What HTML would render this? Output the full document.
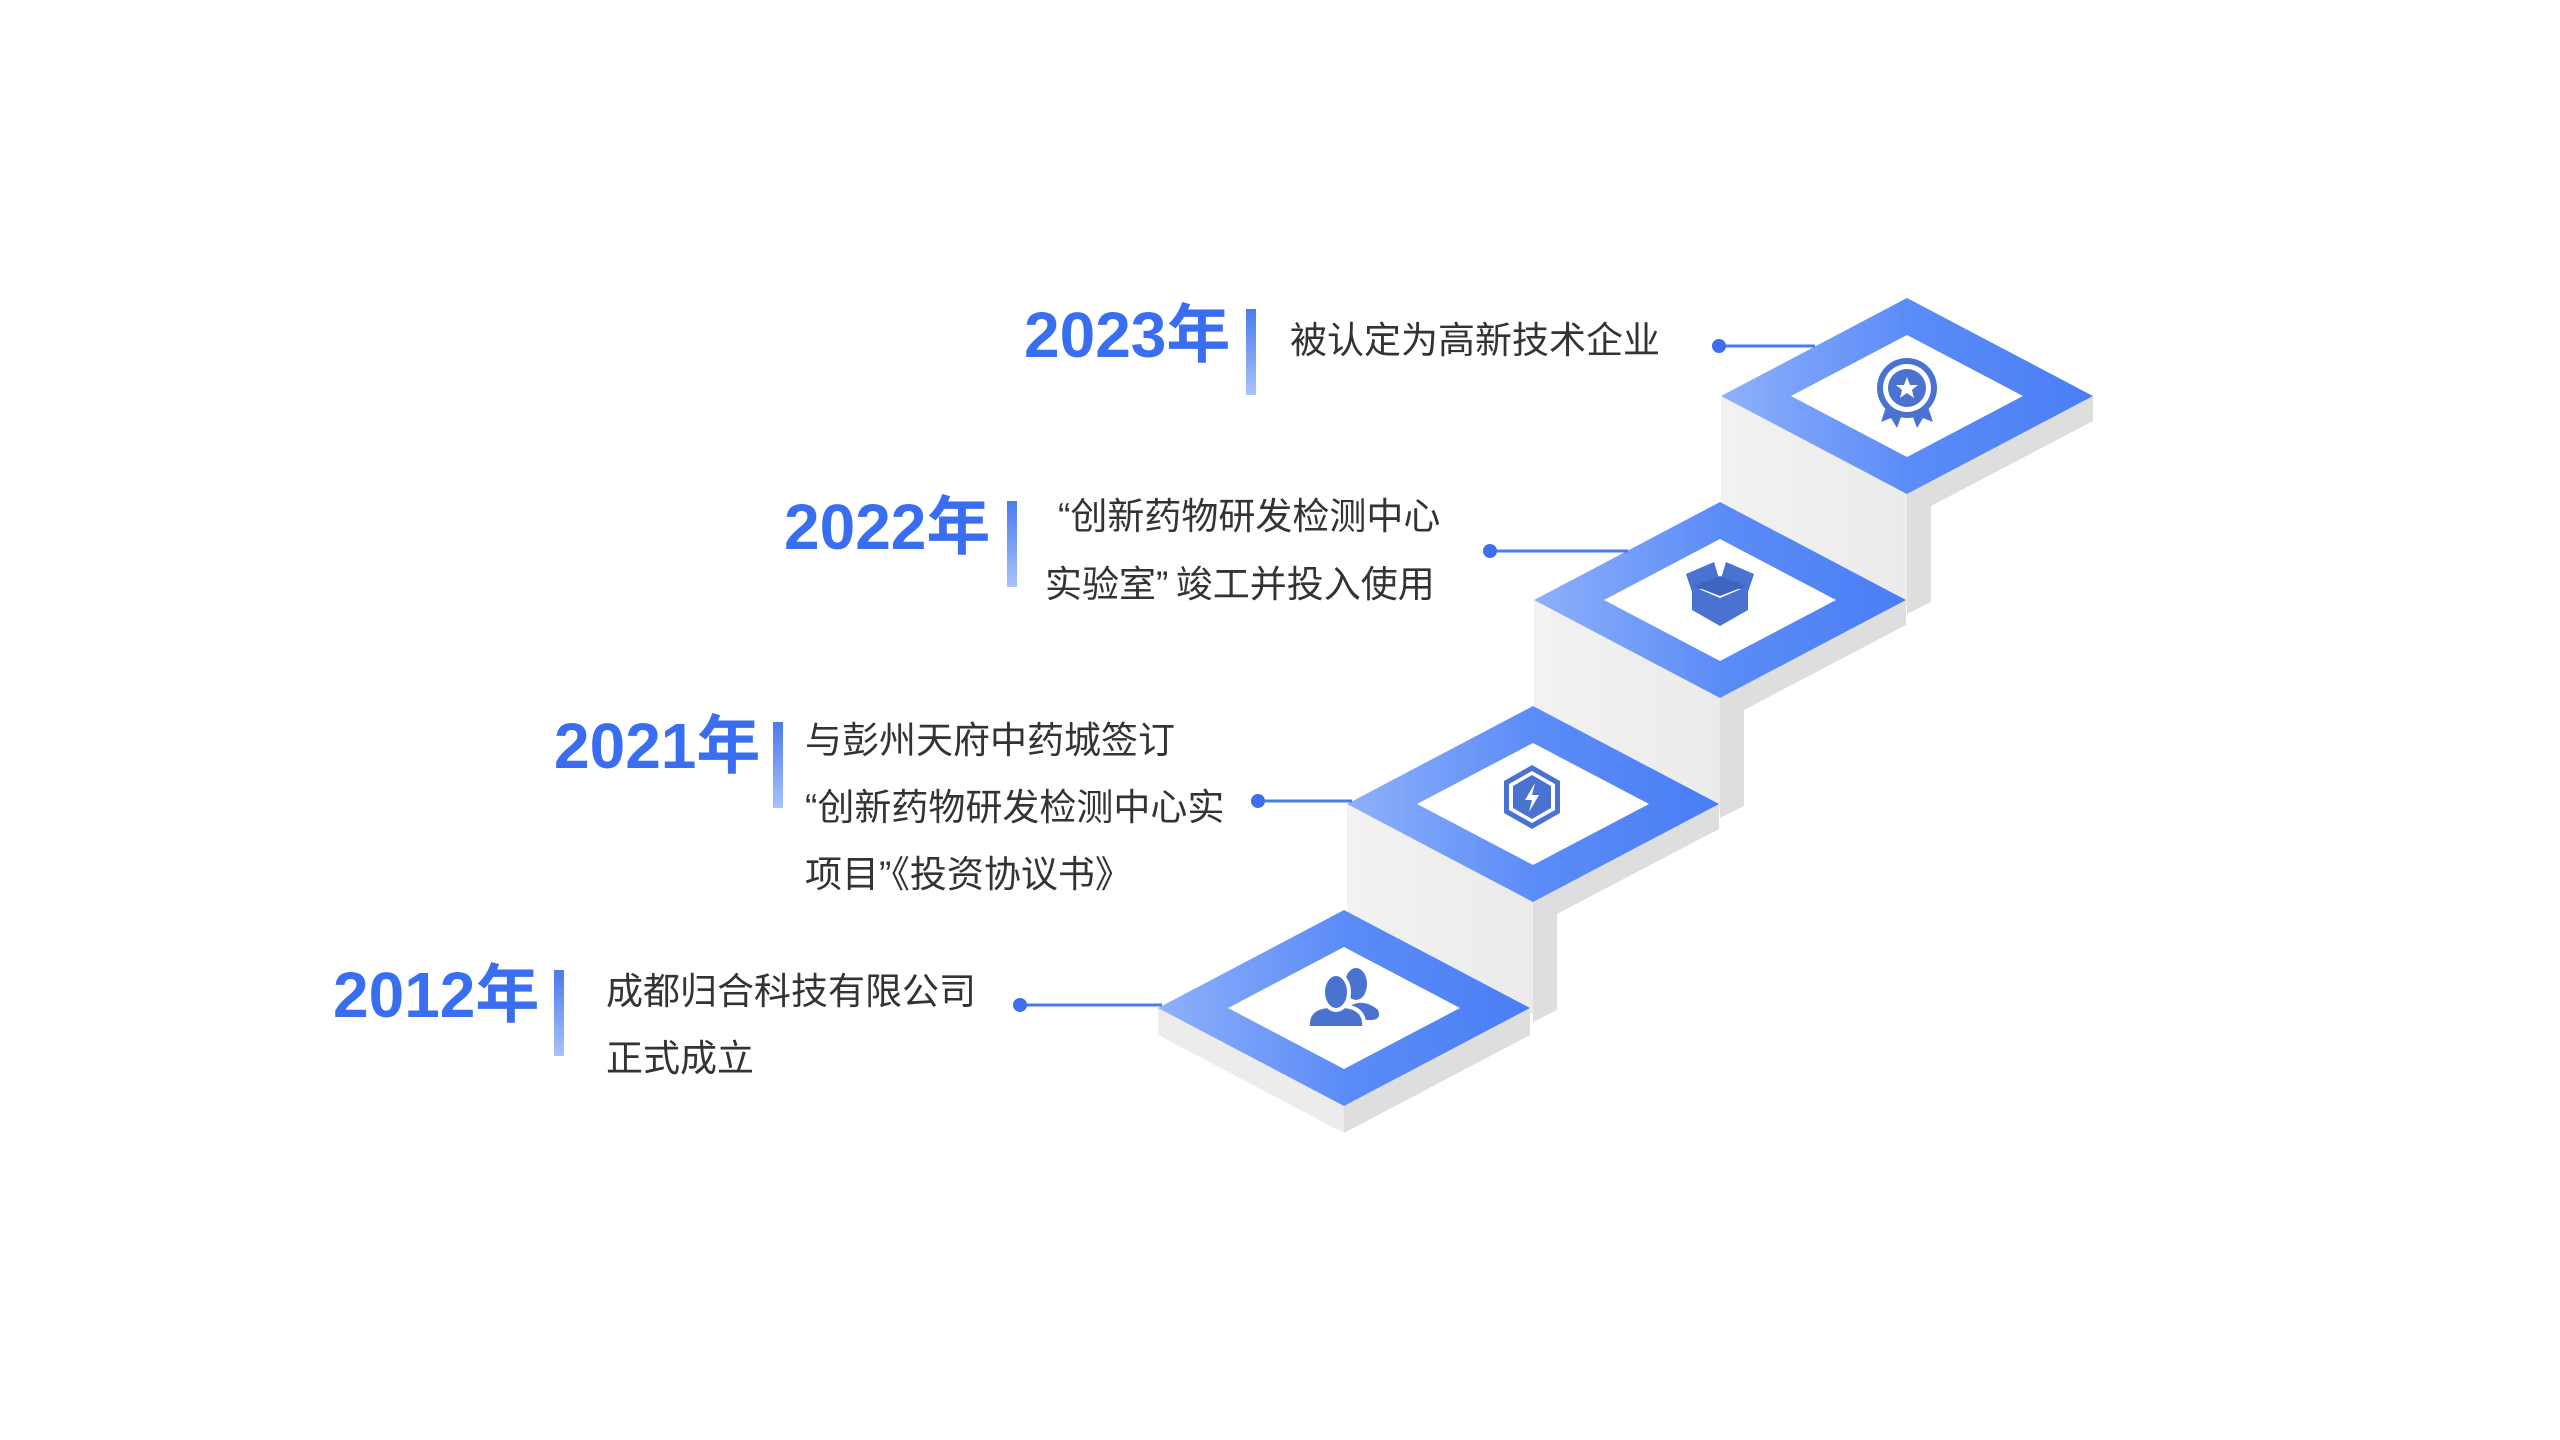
<!DOCTYPE html>
<html><head><meta charset="utf-8"><style>
html,body{margin:0;padding:0;background:#fff;width:2560px;height:1440px;overflow:hidden}
svg{display:block}
.yr{font-family:"Liberation Sans","Noto Sans CJK SC",sans-serif;font-weight:bold;font-size:64px;fill:#3a6ef0}
.tx{font-family:"Liberation Sans","Noto Sans CJK SC",sans-serif;font-size:37px;fill:#333}
</style></head><body>
<svg width="2560" height="1440" viewBox="0 0 2560 1440" xmlns="http://www.w3.org/2000/svg">
<defs>
<linearGradient id="bl" x1="0" y1="0" x2="1" y2="0">
<stop offset="0" stop-color="#8fb0fb"/><stop offset="0.5" stop-color="#5b8cf7"/><stop offset="1" stop-color="#4a7ef5"/>
</linearGradient>
<linearGradient id="bar" x1="0" y1="0" x2="0" y2="1">
<stop offset="0" stop-color="#4a7af0"/><stop offset="1" stop-color="#a8c2fb"/>
</linearGradient>
<linearGradient id="lf" x1="0" y1="0" x2="1" y2="0">
<stop offset="0" stop-color="#f2f2f2"/><stop offset="1" stop-color="#ebebeb"/>
</linearGradient>
<g id="step">
<polygon points="0,98 186,0 186,25 24,110 24,206 0,218" fill="#dedede"/>
<polygon points="-186,0 0,98 0,210 -186,112" fill="url(#lf)"/>
<polygon points="0,-98 186,0 0,98 -186,0" fill="url(#bl)"/>
<polygon points="0,-61 116,0 0,61 -116,0" fill="#fff"/>
</g>
</defs>

<use href="#step" x="1907" y="396"/>
<use href="#step" x="1720" y="600"/>
<use href="#step" x="1533" y="804"/>
<g transform="translate(1344,1008)">
<polygon points="-186,0 0,98 0,125 -186,27" fill="#ececec"/>
<polygon points="0,98 186,0 186,27 0,125" fill="#dedede"/>
<polygon points="0,-98 186,0 0,98 -186,0" fill="url(#bl)"/>
<polygon points="0,-61 116,0 0,61 -116,0" fill="#fff"/>
</g>

<g fill="#4a72d0">
<g transform="translate(1907,388)">
<polygon points="-18,10 -26,34 -16,30 -10,40 -2,18" />
<polygon points="18,10 26,34 16,30 10,40 2,18" />
<circle r="30" fill="#4a72d0"/><circle r="24" fill="#fff"/><circle r="19"/>
<polygon fill="#fff" points="0,-11 3,-3 11,-3 5,2 7,10 0,5 -7,10 -5,2 -11,-3 -3,-3"/>
</g>
<g transform="translate(1720,594)">
<polygon points="-28,-8 0,4 28,-8 28,16 0,32 -28,16"/>
<polygon points="-34,-20 -6,-32 0,-12 -28,-2"/>
<polygon points="34,-20 6,-32 0,-12 28,-2"/>
<polygon points="-26,-8 0,-18 26,-8 0,2" fill="#3f65c0"/>
</g>
<g transform="translate(1532,797)">
<polygon points="0,-32 28,-16 28,16 0,32 -28,16 -28,-16"/>
<polygon points="0,-26 23,-13 23,13 0,26 -23,13 -23,-13" fill="#fff"/>
<polygon points="0,-22 19,-11 19,11 0,22 -19,11 -19,-11"/>
<polygon fill="#fff" points="3,-14 -7,3 0,3 -3,15 7,-2 0,-2"/>
</g>
<g transform="translate(1344,1000)">
<ellipse cx="12" cy="-16" rx="11" ry="16"/>
<path d="M6,6 Q20,-2 34,10 Q38,20 26,20 L10,20 Z"/>
<path d="M-36,28 Q-38,8 -16,6 L0,6 Q22,8 20,28 Z" stroke="#fff" stroke-width="4"/>
<ellipse cx="-8" cy="-8" rx="13" ry="18" stroke="#fff" stroke-width="4"/>
</g>
</g>

<g stroke="#4a7af0" stroke-width="3" fill="#3f6fef">
<line x1="1719" y1="346" x2="1815" y2="346"/><circle cx="1719" cy="346" r="7" stroke="none"/>
<line x1="1490" y1="551" x2="1628" y2="551"/><circle cx="1490" cy="551" r="7" stroke="none"/>
<line x1="1258" y1="801" x2="1352" y2="801"/><circle cx="1258" cy="801" r="7" stroke="none"/>
<line x1="1020" y1="1005" x2="1162" y2="1005"/><circle cx="1020" cy="1005" r="7" stroke="none"/>
</g>

<rect x="1246" y="309" width="10" height="86" fill="url(#bar)"/>
<rect x="1007" y="501" width="10" height="86" fill="url(#bar)"/>
<rect x="773" y="722" width="10" height="86" fill="url(#bar)"/>
<rect x="554" y="970" width="10" height="86" fill="url(#bar)"/>

<text class="yr" x="1024" y="357">2023年</text>
<text class="yr" x="784" y="549">2022年</text>
<text class="yr" x="554" y="768">2021年</text>
<text class="yr" x="333" y="1017">2012年</text>

<text class="tx" x="1290" y="353">被认定为高新技术企业</text>
<text class="tx" x="1058" y="529">“创新药物研发检测中心</text>
<text class="tx" x="1045" y="597">实验室”&#8201;竣工并投入使用</text>
<text class="tx" x="805" y="753">与彭州天府中药城签订</text>
<text class="tx" x="805" y="820">“创新药物研发检测中心实</text>
<text class="tx" x="805" y="887">项目”《投资协议书》</text>
<text class="tx" x="606" y="1004">成都归合科技有限公司</text>
<text class="tx" x="606" y="1071">正式成立</text>
</svg>
</body></html>
